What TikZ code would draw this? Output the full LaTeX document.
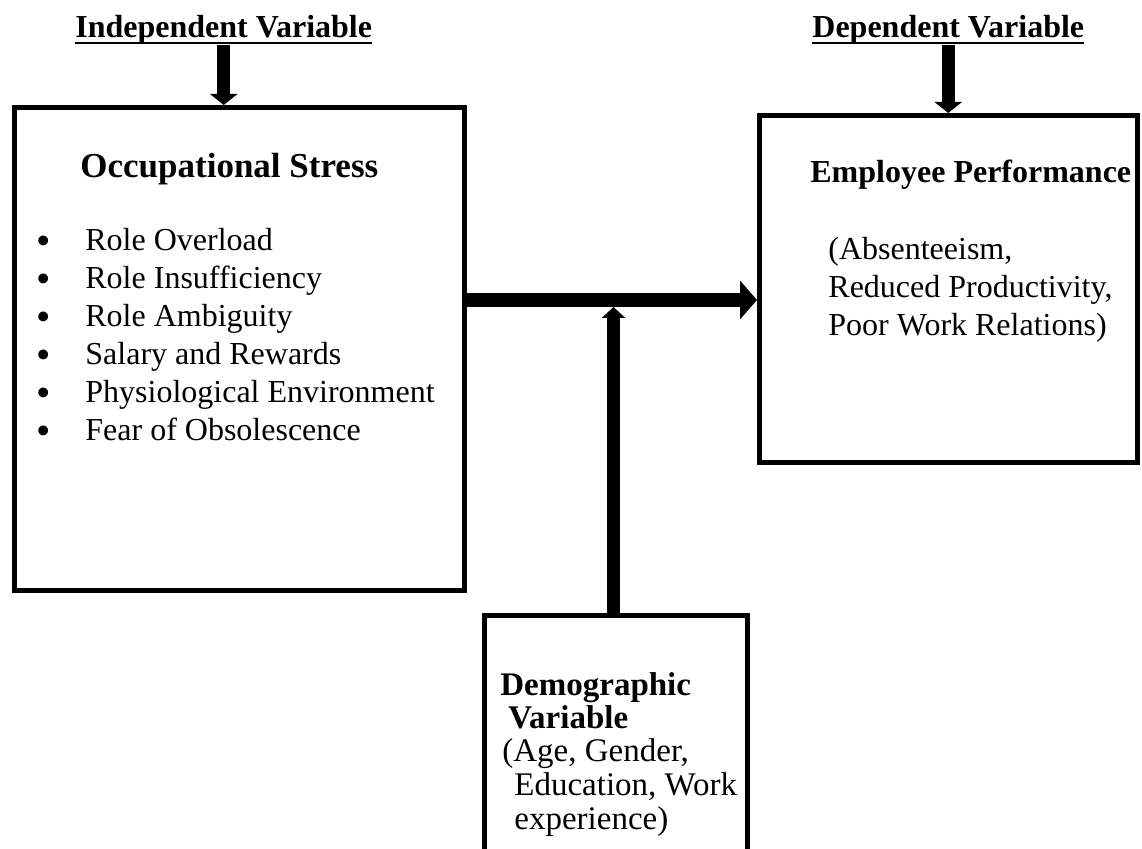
\documentclass[tikz,border=0pt]{standalone}
\usepackage{fontspec}
\setmainfont{Liberation Serif}
\newcommand\thickul[1]{\setbox0\hbox{#1}\leavevmode\rlap{\rule[-3pt]{\wd0}{1.2pt}}\box0}
\usetikzlibrary{arrows.meta}
\begin{document}
\begin{tikzpicture}[x=0.5pt,y=-0.5pt,
  box/.style={draw,line width=2.5pt,rectangle,inner sep=0pt},
  txt/.style={anchor=base west,inner sep=0pt,font=\fontsize{16}{19}\selectfont},
  hd/.style={anchor=base west,inner sep=0pt,font=\fontsize{16}{19}\selectfont\bfseries},
  bighd/.style={anchor=base west,inner sep=0pt,font=\fontsize{17.5}{20}\selectfont\bfseries},
  dtxt/.style={anchor=base west,inner sep=0pt,font=\fontsize{16.5}{20}\selectfont},
  dhd/.style={anchor=base west,inner sep=0pt,font=\fontsize{16.5}{20}\selectfont\bfseries},
  bul/.style={anchor=base west,inner sep=0pt,font=\fontsize{20.5}{22}\selectfont},
  vlink/.style={line width=6.5pt,-{Triangle[length=5.5pt,width=13.5pt]}},
  hlink/.style={line width=7pt,-{Triangle[length=8.5pt,width=19pt]}},
  uplink/.style={line width=6.5pt,-{Triangle[length=5.5pt,width=11.5pt]}},
]
\clip (0,0) rectangle (1142,849);
\fill[white] (0,0) rectangle (1142,849);

% boxes
\node[box,minimum width=225pt,minimum height=241.5pt] (os) at (239.5,349) {};
\node[box,minimum width=189pt,minimum height=173.5pt] (ep) at (948.5,289) {};
\node[box,minimum width=131.5pt,minimum height=132.25pt] (demo) at (616,747.75) {};

% headings
\node[hd] (iv) at (75,38) {\thickul{Independent Variable}};
\node[hd] (dv) at (812,38) {\thickul{Dependent Variable}};

% left box text
\node[bighd] (ost) at (80,178) {Occupational Stress};
\foreach \i/\t/\yy in {1/Role Overload/251,2/Role Insufficiency/289,3/Role Ambiguity/327,4/Salary and Rewards/365,5/Physiological Environment/403,6/Fear of Obsolescence/441}{
  \node[bul] (bul\i) at (36,\yy+4) {•};
  \node[txt] (item\i) at (85,\yy) {\t};
}

% right box text
\node[hd] (ept) at (810,183) {Employee Performance};
\node[txt] (ep1) at (828,260) {(Absenteeism,};
\node[txt] (ep2) at (828,298) {Reduced Productivity,};
\node[txt] (ep3) at (828,336) {Poor Work Relations)};

% demographic box text
\node[dhd] (dm1) at (500,696) {Demographic};
\node[dhd] (dm2) at (508,729) {Variable};
\node[dtxt] (dm3) at (502,762) {(Age, Gender,};
\node[dtxt] (dm4) at (514,796) {Education, Work};
\node[dtxt] (dm5) at (514,830) {experience)};

% connectors
\coordinate (jt) at (613.5,300);
\coordinate (jb) at (613.5,307);
\draw[vlink] (iv.south) -- (iv.south |- os.north);
\draw[vlink] (dv.south) -- (dv.south |- ep.north);
\draw[hlink] (os.east |- jt) -- (ep.west |- jt);
\draw[uplink] (demo.north -| jb) -- (jb);
\end{tikzpicture}
\end{document}
